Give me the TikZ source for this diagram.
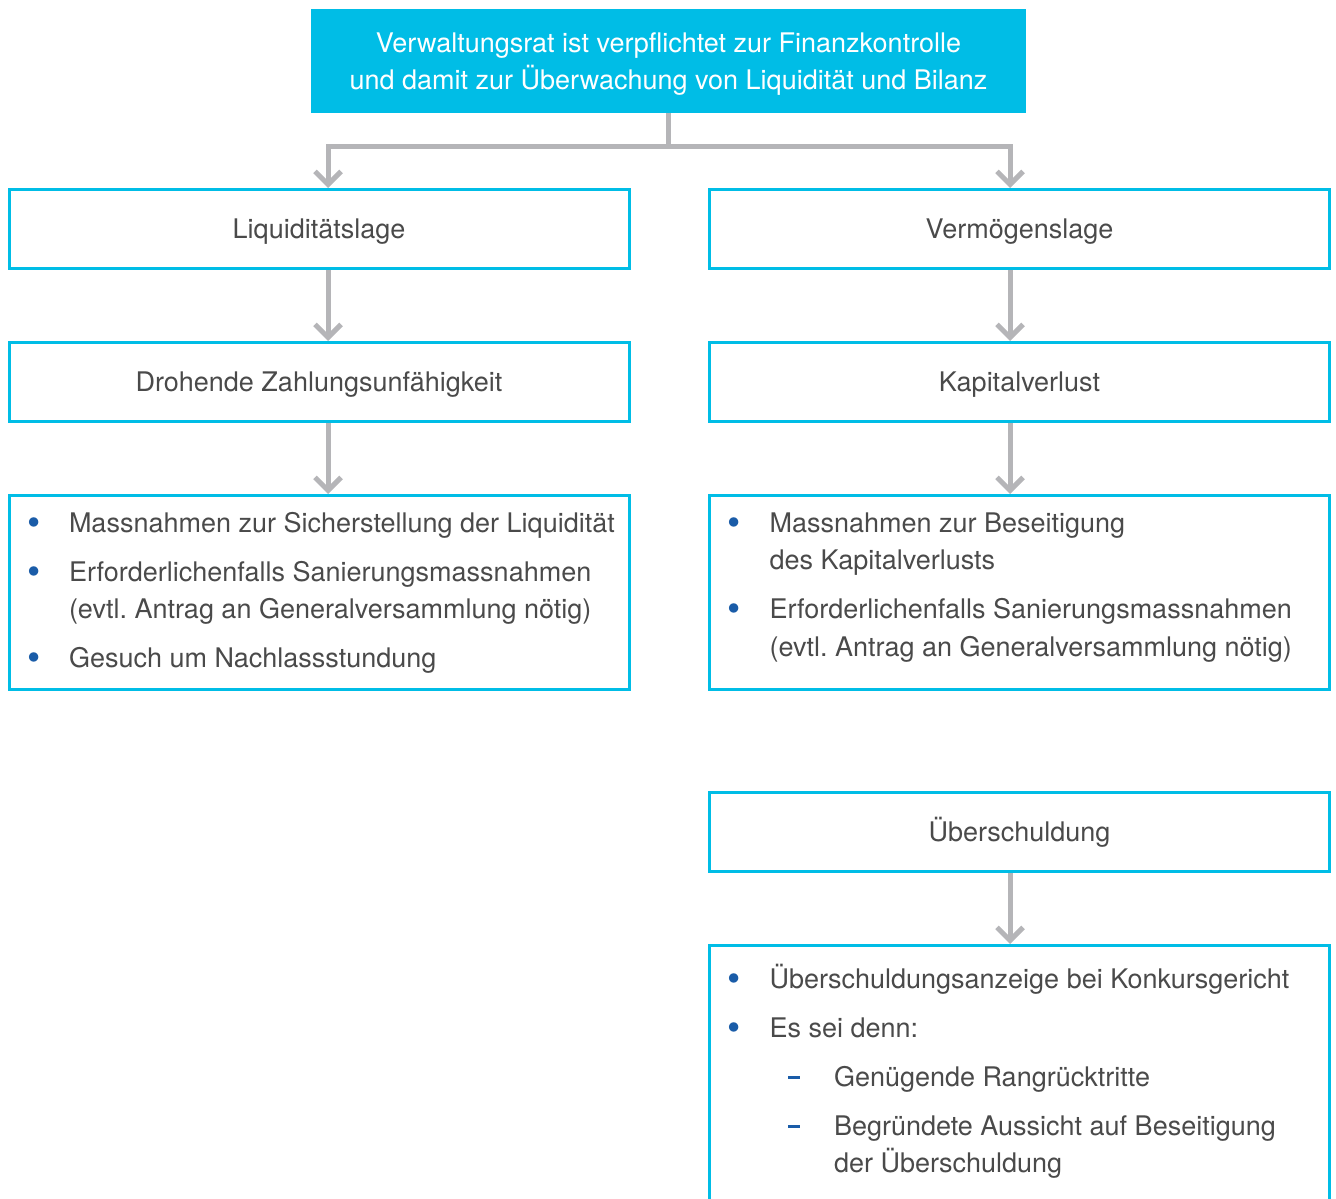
\documentclass[tikz,border=0pt]{standalone}
\usepackage{fontspec}
\setmainfont{TeX Gyre Heros}
\usepackage{xcolor}
\usepackage{tikz}
\usetikzlibrary{arrows.meta, positioning}
\definecolor{vrcyan}{HTML}{00BDE6}
\definecolor{vrgray}{HTML}{B5B5B8}
\definecolor{vrtext}{HTML}{4A4A4A}
\definecolor{vrblue}{HTML}{1A5CA8}
\newcommand{\bul}{\textcolor{vrblue}{\raisebox{-1.6pt}{\scalebox{1.4}{\textbullet}}}}
\newcommand{\strich}{\textcolor{vrblue}{\rule[3.3pt]{6pt}{1.5pt}}}

\begin{document}
\begin{tikzpicture}[x=0.5pt,y=-0.5pt,node distance=35.5pt,
  kopf/.style={fill=vrcyan,text=white,minimum width=357.5pt,minimum height=52pt,inner sep=0pt,align=center,text height=28.55pt,text depth=0pt,font=\fontsize{13.5}{18.75}\selectfont},
  box/.style={draw=vrcyan,line width=1.5pt,minimum width=310pt,minimum height=39.5pt,inner sep=0pt,text height=9.7pt,text depth=0pt,text=vrtext,font=\fontsize{13.5}{18.75}\selectfont},
  liste/.style={draw=vrcyan,line width=1.5pt,inner xsep=9pt,inner ysep=5.25pt,text height=13pt,text depth=73.5pt,text=vrtext,font=\fontsize{13.5}{18.75}\selectfont},
  pfeil/.style={draw=vrgray,line width=2.5pt,-{Straight Barb[sharp,length=6.5pt,width=13pt]}}]
\useasboundingbox (0,0) rectangle (1336,1198);
\clip (0,0) rectangle (1336,1198);
\node[kopf] (vr) at (668.5,61) {Verwaltungsrat ist verpflichtet zur Finanzkontrolle\\und damit zur Überwachung von Liquidität und Bilanz};
\node[box] (liq) at (319,229) {Liquiditätslage};
\node[box] (verm) at (1019.5,229) {Vermögenslage};
\node[box,below=of liq] (dzu) {Drohende Zahlungsunfähigkeit};
\node[box,below=of verm] (kap) {Kapitalverlust};
\node[liste,below=of dzu] (massL) {\makebox[292pt][l]{\begin{tabular}[t]{@{}p{21pt}@{}l@{}}
  \bul & Massnahmen zur Sicherstellung der Liquidität\\[5.75pt]
  \bul & Erforderlichenfalls Sanierungsmassnahmen\\
       & (evtl.\ Antrag an Generalversammlung nötig)\\[5.75pt]
  \bul & Gesuch um Nachlassstundung
  \end{tabular}}};
\node[liste,below=of kap] (massR) {\makebox[292pt][l]{\begin{tabular}[t]{@{}p{21pt}@{}l@{}}
  \bul & Massnahmen zur Beseitigung\\
       & des Kapitalverlusts\\[5.75pt]
  \bul & Erforderlichenfalls Sanierungsmassnahmen\\
       & (evtl.\ Antrag an Generalversammlung nötig)
  \end{tabular}}};
\node[box,below=50pt of massR] (ueb) {Überschuldung};
\node[liste,text height=16pt,text depth=200pt,below=of ueb] (uebM) {\makebox[292pt][l]{\begin{tabular}[t]{@{}p{21pt}@{}l@{}}
  \bul & Überschuldungsanzeige bei Konkursgericht\\[5.75pt]
  \bul & Es sei denn:\\[5.75pt]
       & \hspace*{9.25pt}\makebox[23pt][l]{\strich}Genügende Rangrücktritte\\[5.75pt]
       & \hspace*{9.25pt}\makebox[23pt][l]{\strich}Begründete Aussicht auf Beseitigung\\
       & \hspace*{32.25pt}der Überschuldung
  \end{tabular}}};
\coordinate (split) at (668.5,147);
\draw[pfeil] (vr.south) -- (vr.south |- split) -| ([xshift=4.5pt]liq.north);
\draw[pfeil] (vr.south) -- (vr.south |- split) -| ([xshift=-4.75pt]verm.north);
\draw[pfeil] ([xshift=4.5pt]liq.south) -- ([xshift=4.5pt]dzu.north);
\draw[pfeil] ([xshift=4.5pt]dzu.south) -- ([xshift=4.5pt]massL.north);
\draw[pfeil] ([xshift=-4.75pt]verm.south) -- ([xshift=-4.75pt]kap.north);
\draw[pfeil] ([xshift=-4.75pt]kap.south) -- ([xshift=-4.75pt]massR.north);
\draw[pfeil] ([xshift=-4.75pt]ueb.south) -- ([xshift=-4.75pt]uebM.north);
\end{tikzpicture}
\end{document}
